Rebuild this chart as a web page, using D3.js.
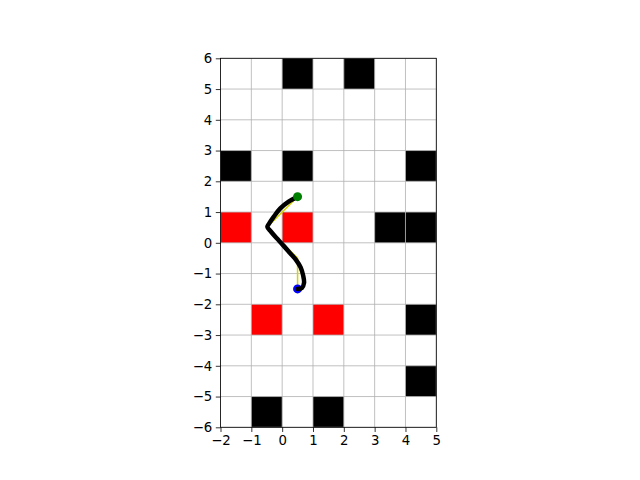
<!DOCTYPE html>
<html><head><meta charset="utf-8">
<script src="https://cdn.jsdelivr.net/npm/d3@7"></script>
<style>body{margin:0;background:#fff}svg{display:block}text{font-family:"DejaVu Sans",sans-serif;font-size:13.3px}</style>
</head><body><svg id="c" width="640" height="480"></svg>
<script>
const xTicks = [-2,-1,0,1,2,3,4,5];
const yTicks = [-6,-5,-4,-3,-2,-1,0,1,2,3,4,5,6];
// obstacle cells (lower-left corner)
const blackCells = [[0,5],[2,5],[-2,2],[0,2],[4,2],[3,0],[4,0],[4,-3],[4,-5],[-1,-6],[1,-6]];
const redCells = [[-2,0],[0,0],[-1,-3],[1,-3]];
// reference path (yellow)
const refPath = [[0.5,1.5],[-0.5,0.5],[0.5,-0.5],[0.5,-1.5]];
// trajectory (black)
const traj = [[0.5,1.5],[0.21,1.34],[-0.06,1.12],[-0.27,0.85],[-0.42,0.63],[-0.48,0.52],[-0.36,0.36],[-0.15,0.12],[0.05,-0.1],[0.26,-0.34],[0.46,-0.57],[0.6,-0.8],[0.68,-1.06],[0.71,-1.3],[0.64,-1.47],[0.5,-1.5]];
const startPt = [0.5,1.5];
const goalPt = [0.5,-1.5];

const svg = d3.select("#c");
const x = d3.scaleLinear().domain([-2,5]).range([220.5,436.3]);
const y = d3.scaleLinear().domain([-6,6]).range([427.3,58.3]);

const g = svg.append("g");
g.append("rect").attr("x",x(-2)).attr("y",y(6)).attr("width",x(5)-x(-2)).attr("height",y(-6)-y(6)).attr("fill","#fff");

function cells(data,color){
  g.selectAll(null).data(data).enter().append("rect")
   .attr("x",d=>x(d[0])).attr("y",d=>y(d[1]+1))
   .attr("width",d=>x(d[0]+1)-x(d[0])).attr("height",d=>y(d[1])-y(d[1]+1))
   .attr("fill",color);
}
cells(blackCells,"#000");
cells(redCells,"#ff0000");

// grid
g.selectAll(null).data(xTicks).enter().append("line")
 .attr("x1",d=>x(d)).attr("x2",d=>x(d)).attr("y1",y(-6)).attr("y2",y(6))
 .attr("stroke","#b0b0b0").attr("stroke-width",0.8);
g.selectAll(null).data(yTicks).enter().append("line")
 .attr("y1",d=>y(d)).attr("y2",d=>y(d)).attr("x1",x(-2)).attr("x2",x(5))
 .attr("stroke","#b0b0b0").attr("stroke-width",0.8);

const line = d3.line().x(d=>x(d[0])).y(d=>y(d[1]));
g.append("path").attr("d",line(refPath)).attr("fill","none").attr("stroke","#d4d400").attr("stroke-width",1.5);
g.append("circle").attr("cx",x(goalPt[0])).attr("cy",y(goalPt[1])).attr("r",4.5).attr("fill","#0000ff");
g.append("path").attr("d",d3.line().curve(d3.curveCatmullRom).x(d=>x(d[0])).y(d=>y(d[1]))(traj))
 .attr("fill","none").attr("stroke","#000").attr("stroke-width",4.5).attr("stroke-linejoin","round").attr("stroke-linecap","round");
g.append("circle").attr("cx",x(startPt[0])).attr("cy",y(startPt[1])).attr("r",4.5).attr("fill","#008000");

// axes
const xa = svg.append("g").attr("transform",`translate(0,${y(-6)})`)
 .call(d3.axisBottom(x).tickValues(xTicks).tickSize(4.7).tickPadding(3.5).tickFormat(d=>d<0?"\u2212"+Math.abs(d):d));
const ya = svg.append("g").attr("transform",`translate(${x(-2)},0)`)
 .call(d3.axisLeft(y).tickValues(yTicks).tickSize(4.7).tickPadding(3.5).tickFormat(d=>d<0?"\u2212"+Math.abs(d):d));
[xa,ya].forEach(a=>{a.select(".domain").remove();a.selectAll("line").attr("stroke","#000").attr("stroke-width",0.8);
 a.selectAll("text").attr("fill","#000").style("font-family","DejaVu Sans").style("font-size","13.3px");});
// spines
svg.append("rect").attr("x",x(-2)).attr("y",y(6)).attr("width",x(5)-x(-2)).attr("height",y(-6)-y(6))
 .attr("fill","none").attr("stroke","#000").attr("stroke-width",0.8);
</script></body></html>
